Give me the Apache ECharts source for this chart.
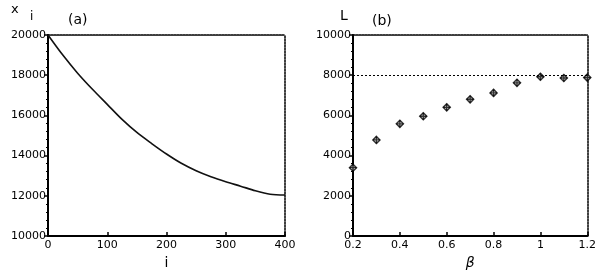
<!DOCTYPE html>
<html><head><meta charset="utf-8">
<script src="https://cdn.jsdelivr.net/npm/echarts@6/dist/echarts.min.js"></script>
<style>html,body{margin:0;padding:0;background:#fff}#c{width:599px;height:275px}</style>
</head><body><div id="c"></div>
<script>
// Panel (a): x_i versus i
const iValues = [0, 25, 50, 75, 100, 125, 150, 175, 200, 225, 250, 275, 300, 325, 350, 375, 400];
const xiValues = [20000, 19000, 18100, 17300, 16550, 15800, 15150, 14600, 14080, 13620, 13250, 12950, 12700, 12480, 12250, 12080, 12040];
// Panel (b): L versus beta
const betaValues = [0.2, 0.3, 0.4, 0.5, 0.6, 0.7, 0.8, 0.9, 1.0, 1.1, 1.2];
const LValues = [3400, 4780, 5580, 5960, 6400, 6800, 7120, 7620, 7920, 7860, 7880];
const refLineL = 8000;
// Tick settings
const aXTicks = {min: 0, max: 400, interval: 100};
const aYTicks = {min: 10000, max: 20000, interval: 2000};
const bXTicks = {min: 0.2, max: 1.2, interval: 0.2};
const bYTicks = {min: 0, max: 10000, interval: 2000};

const FONT = 'DejaVu Sans';
const lbl = {color: '#000', fontFamily: FONT, fontSize: 11};
const fmt = v => String(+(+v).toFixed(1));
function mainX(grid, t, name, italic) {
  return {type: 'value', gridIndex: grid, min: t.min, max: t.max, interval: t.interval, position: 'bottom',
    axisLine: {show: true, onZero: false, lineStyle: {color: '#000', width: 2}},
    axisTick: {show: true, inside: true, length: 4, lineStyle: {color: '#000', width: 1.5}},
    axisLabel: Object.assign({margin: 4, formatter: fmt}, lbl),
    splitLine: {show: false},
    name: name, nameLocation: 'middle', nameGap: 20,
    nameTextStyle: {color: '#000', fontFamily: FONT, fontSize: 14, fontStyle: italic ? 'italic' : 'normal'}};
}
function mainY(grid, t) {
  return {type: 'value', gridIndex: grid, min: t.min, max: t.max, interval: t.interval, position: 'left',
    axisLine: {show: true, onZero: false, lineStyle: {color: '#000', width: 2}},
    axisTick: {show: true, inside: false, length: 4, lineStyle: {color: '#000', width: 1.5}},
    minorTick: {show: true, splitNumber: 5, length: 2, lineStyle: {color: '#000'}},
    axisLabel: Object.assign({margin: 2, formatter: fmt}, lbl),
    splitLine: {show: false}};
}
function frameX(grid, t) {
  return {type: 'value', gridIndex: grid, min: t.min, max: t.max, interval: t.interval, position: 'top',
    axisLine: {show: true, onZero: false, lineStyle: {color: '#000', width: 1.5, type: [2, 1]}},
    axisTick: {show: false}, axisLabel: {show: false}, splitLine: {show: false}};
}
function frameY(grid, t) {
  return {type: 'value', gridIndex: grid, min: t.min, max: t.max, interval: t.interval, position: 'right',
    axisLine: {show: true, onZero: false, lineStyle: {color: '#000', width: 1.5, type: [2, 1]}},
    axisTick: {show: false}, axisLabel: {show: false}, splitLine: {show: false}};
}

const chart = echarts.init(document.getElementById('c'), null, {renderer: 'canvas'});
chart.setOption({
  animation: false,
  backgroundColor: '#fff',
  grid: [
    {left: 48, top: 35, width: 237, height: 203},
    {left: 353, top: 35, width: 235, height: 203}
  ],
  xAxis: [mainX(0, aXTicks, 'i', false), mainX(1, bXTicks, 'β', true), frameX(0, aXTicks), frameX(1, bXTicks)],
  yAxis: [mainY(0, aYTicks), mainY(1, bYTicks), frameY(0, aYTicks), frameY(1, bYTicks)],
  graphic: [
    {type: 'text', left: 11, top: 3, style: {text: 'x', fill: '#000', font: '13px "DejaVu Sans"'}},
    {type: 'text', left: 30, top: 11, style: {text: 'i', fill: '#000', font: '12px "DejaVu Sans"'}},
    {type: 'text', left: 68, top: 13, style: {text: '(a)', fill: '#000', font: '14px "DejaVu Sans"'}},
    {type: 'text', left: 340, top: 9, style: {text: 'L', fill: '#000', font: '14px "DejaVu Sans"'}},
    {type: 'text', left: 372, top: 14, style: {text: '(b)', fill: '#000', font: '14px "DejaVu Sans"'}}
  ],
  series: [
    {type: 'line', xAxisIndex: 0, yAxisIndex: 0, data: iValues.map((v, k) => [v, xiValues[k]]),
      smooth: 0.3, showSymbol: false, lineStyle: {color: '#111', width: 1.6}},
    {type: 'scatter', xAxisIndex: 1, yAxisIndex: 1, data: betaValues.map((v, k) => [v, LValues[k]]),
      symbol: 'diamond', symbolSize: 7, itemStyle: {color: '#fff', borderColor: '#000', borderWidth: 1.5},
      markLine: {silent: true, symbol: 'none', label: {show: false},
        lineStyle: {color: '#000', type: [2, 2], width: 1.2}, data: [{yAxis: refLineL}]}},
    {type: 'scatter', xAxisIndex: 1, yAxisIndex: 1, data: betaValues.map((v, k) => [v, LValues[k]]),
      symbol: 'path://M4,0h2v10h-2zM0,4h10v2h-10z', symbolSize: 7, itemStyle: {color: '#000'}}
  ]
});
</script></body></html>
